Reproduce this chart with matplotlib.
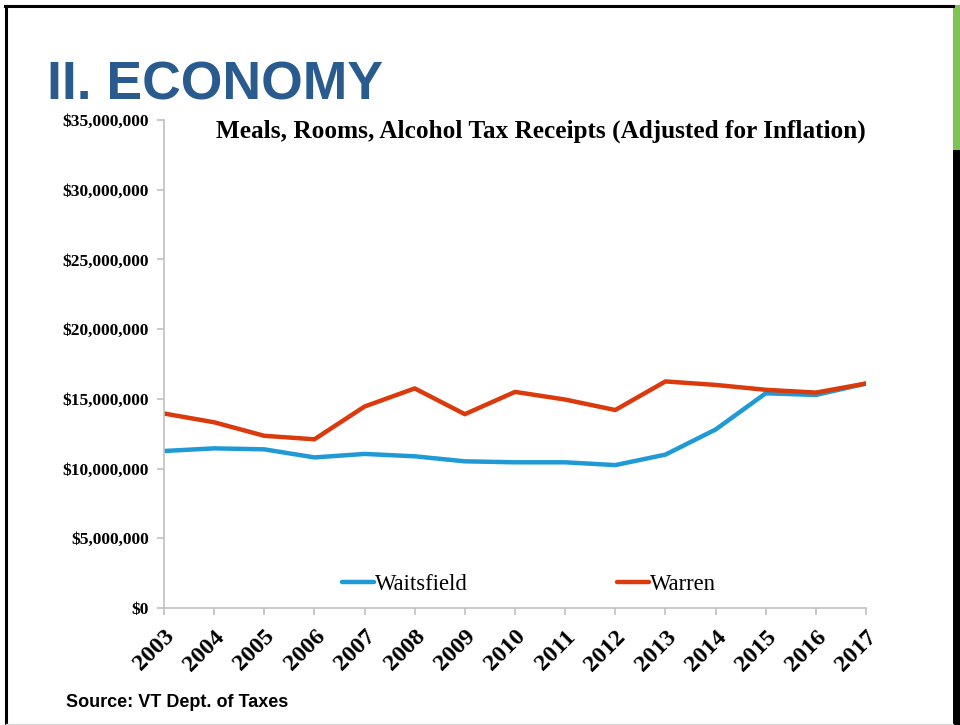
import matplotlib.pyplot as plt
from matplotlib.patches import Rectangle
from matplotlib.lines import Line2D
from matplotlib.ticker import FuncFormatter

years = [str(y) for y in range(2003, 2018)]
waitsfield = [11.26e6, 11.45e6, 11.38e6, 10.8e6, 11.05e6, 10.88e6, 10.52e6, 10.45e6,
              10.45e6, 10.25e6, 11.0e6, 12.8e6, 15.4e6, 15.28e6, 16.1e6]
warren = [13.95e6, 13.32e6, 12.35e6, 12.1e6, 14.45e6, 15.75e6, 13.9e6, 15.5e6,
          14.95e6, 14.2e6, 16.25e6, 16.0e6, 15.65e6, 15.45e6, 16.1e6]

BLUE = '#1f9ad6'
RED = '#db3a0c'
SERIF = ['Liberation Serif', 'DejaVu Serif']

fig = plt.figure(figsize=(9.6, 7.25), dpi=100)

# slide frame and side bar
fig.add_artist(Line2D([5 / 960, 953 / 960], [1 - 5.5 / 725, 1 - 5.5 / 725], color='black', lw=2.2))
fig.add_artist(Line2D([6 / 960, 6 / 960], [0, 1 - 5.5 / 725], color='black', lw=2.2))
fig.add_artist(Line2D([6 / 960, 953 / 960], [1.5 / 725, 1.5 / 725], color='#d9d9d9', lw=1))
fig.add_artist(Rectangle((953 / 960, 1 - 150 / 725), 7 / 960, 145 / 725,
                         transform=fig.transFigure, color='#7dc454', lw=0))
fig.add_artist(Rectangle((953 / 960, 0), 7 / 960, 1 - 150 / 725,
                         transform=fig.transFigure, color='black', lw=0))

fig.text(47 / 960, 1 - 100 / 725, 'II. ECONOMY', color='#2a5b8f', fontsize=38.5,
         fontweight='bold', family='Liberation Sans', va='baseline', ha='left')
fig.text(66 / 960, 1 - 707 / 725, 'Source: VT Dept. of Taxes', fontsize=13,
         fontweight='bold', family='Liberation Sans', va='baseline', ha='left')

ax = fig.add_axes([164 / 960, 1 - 608 / 725, 702 / 960, 488 / 725])
x = range(len(years))
ax.plot(x, waitsfield, color=BLUE, lw=3.2, label='Waitsfield', solid_capstyle='round')
ax.plot(x, warren, color=RED, lw=3.2, label='Warren', solid_capstyle='round')

ax.set_xlim(0, len(years) - 1)
ax.set_ylim(0, 35e6)
ax.set_yticks(range(0, 35000001, 5000000))
ax.yaxis.set_major_formatter(FuncFormatter(lambda v, p: '${:,.0f}'.format(v)))
ax.set_xticks(list(x))
ax.set_xticklabels(years, rotation=45, ha='right', va='top', rotation_mode='anchor')

for s in ['top', 'right']:
    ax.spines[s].set_visible(False)
for s in ['left', 'bottom']:
    ax.spines[s].set_color('#c0c0c0')
    ax.spines[s].set_linewidth(1.2)
ax.tick_params(axis='both', color='#c0c0c0', length=5, width=1.2)
ax.tick_params(axis='y', pad=6)
ax.tick_params(axis='x', pad=8)
for lbl in ax.get_yticklabels():
    lbl.set_family(SERIF)
    lbl.set_fontweight('bold')
    lbl.set_fontsize(12.6)
for lbl in ax.get_xticklabels():
    lbl.set_family(SERIF)
    lbl.set_fontweight('bold')
    lbl.set_fontsize(17.5)

ax.text(1.0, 1 - (131 - 120) / 488, 'Meals, Rooms, Alcohol Tax Receipts (Adjusted for Inflation)',
        transform=ax.transAxes, ha='right', va='center', family=SERIF,
        fontweight='bold', fontsize=18.2)

ax.legend(loc='center', bbox_to_anchor=(0.52, 0.049), ncol=2, frameon=False,
          prop={'family': SERIF, 'size': 16.3}, handlelength=1.4, handletextpad=0.05,
          columnspacing=6.6)

fig.savefig('out.png', dpi=100, facecolor='white')
